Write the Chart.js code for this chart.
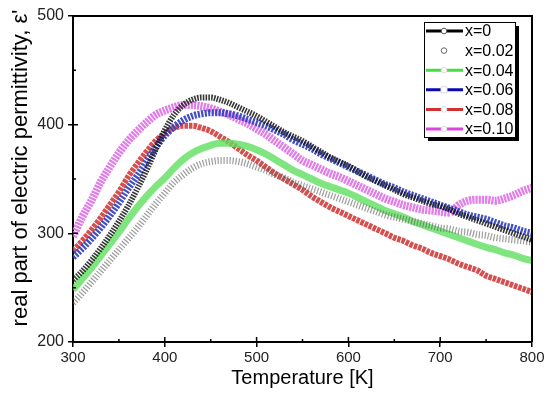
<!DOCTYPE html>
<html>
<head>
<meta charset="utf-8">
<script src="https://cdn.jsdelivr.net/npm/chart.js@4"></script>
<style>
html,body{margin:0;padding:0;background:#fff;}
#wrap{width:550px;height:397px;position:relative;}
</style>
</head>
<body>
<div id="wrap"><canvas id="c" width="550" height="397"></canvas></div>
<script>
// Temperature [K]
const temps = [300,310,320,330,340,350,360,370,380,390,400,410,420,430,440,450,460,470,480,490,500,
  510,520,530,540,550,560,570,580,590,600,610,620,630,640,650,660,670,680,690,700,
  710,720,730,740,750,760,770,780,790,800];

const x000 = [257,265,275,286,298,311,325,341,358,377,395,409,418,423,425,425,423,420,416,412,408,
  403,398,393,389,385,380,375,370,366,362,357,352,348,344,340,336,333,330,327,325,
  322,318,315,312,309,306,303,300,297,294];
const x002 = [236,245,255,265,275,285,295,305,316,327,337,347,354,360,364,366,367,367,366,364,361,
  358,354,351,347,344,341,338,335,332,329,326,323,320,317,315,313,311,309,307,305,
  304,302,301,299,298,296,295,294,293,292];
const x004 = [248,258,268,279,290,301,313,324,334,343,351,360,368,374,378,381,383,383,382,380,377,
  373,368,363,358,354,350,346,343,340,337,333,329,325,321,318,315,311,308,305,302,
  299,296,293,290,287,285,282,280,277,275];
const x006 = [278,286,295,305,316,328,341,353,366,379,390,398,404,408,410,411,411,410,408,405,402,
  399,395,391,386,382,378,373,369,365,361,357,353,349,345,342,338,335,332,329,326,
  323,320,317,315,313,310,307,305,302,300];
const x008 = [284,293,303,314,326,338,352,364,375,385,392,397,399,399,397,394,389,384,378,372,367,
  361,355,350,345,340,334,329,324,320,316,312,308,304,300,296,293,289,286,282,279,
  276,272,269,266,261,258,255,252,249,246];
const x010 = [297,315,330,347,361,374,385,394,402,409,413,416,418,418,417,415,412,409,405,401,396,
  391,385,379,373,367,363,359,355,352,348,344,340,336,332,329,326,324,322,321,320,
  319,326,330,331,331,330,332,335,339,342];

const seriesNames = ['x=0','x=0.02','x=0.04','x=0.06','x=0.08','x=0.10'];
const xTicks = [300,400,500,600,700,800];
const yTicks = [200,300,400,500];
const xMinor = [350,450,550,650,750];
const yMinor = [250,350,450];

function pts(arr){ return temps.map((t,i)=>({x:t,y:arr[i]})); }

const styles = [
  {line:'rgba(20,20,20,0.85)', lw:6, dash:[1.6,1.2], pt:'circle', pc:'rgba(0,0,0,0)', pr:0},
  {line:'rgba(90,90,90,0.6)', lw:7, dash:[1.2,1.8], pt:'circle', pc:'rgba(0,0,0,0)', pr:0},
  {line:'rgba(95,222,95,0.8)', lw:7, dash:[], pt:'circle', pc:'rgba(0,0,0,0)', pr:0},
  {line:'rgba(45,60,190,0.9)', lw:7, dash:[2.2,1.3], pt:'rect', pc:'rgba(0,0,0,0)', pr:0},
  {line:'rgba(210,60,60,0.9)', lw:6, dash:[3.5,1], pt:'triangle', pc:'rgba(0,0,0,0)', pr:0},
  {line:'rgba(222,110,230,0.9)', lw:8, dash:[2.2,1], pt:'circle', pc:'rgba(0,0,0,0)', pr:0}
];
const allData = [x000,x002,x004,x006,x008,x010];

const datasets = allData.map((d,i)=>({
  label: seriesNames[i],
  data: pts(d),
  showLine: true,
  borderColor: styles[i].line,
  borderWidth: styles[i].lw,
  borderDash: styles[i].dash,
  pointStyle: styles[i].pt,
  pointRadius: styles[i].pr,
  pointBorderColor: styles[i].pc,
  pointBackgroundColor: 'rgba(255,255,255,0)',
  pointBorderWidth: 1,
  cubicInterpolationMode: 'monotone',
  fill:false
}));

const FONT = '"Liberation Sans", Arial, sans-serif';

const decor = {
  id:'decor',
  afterDraw(chart){
    const {ctx, chartArea:a, scales:{x,y}} = chart;
    ctx.save();
    ctx.setLineDash([]);
    ctx.strokeStyle='#000';
    ctx.lineWidth=2;
    ctx.beginPath();
    ctx.moveTo(a.left,a.top); ctx.lineTo(a.right,a.top); ctx.lineTo(a.right,a.bottom);
    ctx.stroke();
    ctx.lineWidth=1.5;
    ctx.beginPath();
    xTicks.forEach(v=>{const p=x.getPixelForValue(v); ctx.moveTo(p,a.bottom); ctx.lineTo(p,a.bottom-5);});
    yTicks.forEach(v=>{const p=y.getPixelForValue(v); ctx.moveTo(a.left,p); ctx.lineTo(a.left+5,p);});
    xMinor.forEach(v=>{const p=x.getPixelForValue(v); ctx.moveTo(p,a.bottom); ctx.lineTo(p,a.bottom-3);});
    yMinor.forEach(v=>{const p=y.getPixelForValue(v); ctx.moveTo(a.left,p); ctx.lineTo(a.left+3,p);});
    ctx.stroke();

    // axis titles
    ctx.fillStyle='#000';
    ctx.font='20px '+FONT;
    ctx.textAlign='center';
    ctx.textBaseline='alphabetic';
    ctx.fillText('Temperature [K]', (a.left+a.right)/2, 384);
    ctx.save();
    ctx.translate(27,168);
    ctx.rotate(-Math.PI/2);
    ctx.font='22px '+FONT;
    ctx.fillText("real part of electric permittivity, ε'", 0, 0);
    ctx.restore();

    // legend
    const L=424, T=22, W=91, H=115;
    ctx.fillStyle='#000';
    ctx.fillRect(L+4,T+4,W,H);
    ctx.fillStyle='#fff';
    ctx.fillRect(L,T,W,H);
    ctx.lineWidth=1;
    ctx.strokeStyle='#000';
    ctx.strokeRect(L+0.5,T+0.5,W,H);
    ctx.font='16px '+FONT;
    ctx.textBaseline='middle';
    ctx.textAlign='left';
    const legLine=['#000000',null,'#44dd44','#0a0ab0','#d03030','#dd44dd'];
    seriesNames.forEach((n,i)=>{
      const cy = T+9+i*19.6;
      if(legLine[i]){
        ctx.strokeStyle=legLine[i]; ctx.lineWidth=3;
        ctx.beginPath(); ctx.moveTo(L+2,cy); ctx.lineTo(L+39,cy); ctx.stroke();
      }
      ctx.strokeStyle = i===1 ? '#666' : (i===0?'#555':'#ddd');
      ctx.fillStyle='#fff';
      ctx.lineWidth=1;
      ctx.beginPath();
      if(i===3){ ctx.rect(L+17,cy-3,6,6); }
      else { ctx.arc(L+20,cy,2.8,0,Math.PI*2); }
      ctx.fill(); ctx.stroke();
      ctx.fillStyle='#000';
      ctx.fillText(n, L+41, cy+1);
    });
    ctx.restore();
  }
};

new Chart(document.getElementById('c'),{
  type:'scatter',
  data:{datasets},
  options:{
    responsive:false,
    animation:false,
    devicePixelRatio:1,
    layout:{padding:{top:16,right:18,left:0,bottom:0}},
    plugins:{legend:{display:false},tooltip:{enabled:false}},
    scales:{
      x:{
        type:'linear', min:300, max:800,
        afterBuildTicks(s){ s.ticks = xTicks.map(v=>({value:v})); },
        afterFit(s){ s.height = 55; },
        border:{display:true,color:'#000',width:2},
        grid:{display:true,drawOnChartArea:false,drawTicks:true,tickLength:5,color:'#000',lineWidth:1.5},
        ticks:{color:'#222',font:{size:15,family:FONT},padding:2,maxRotation:0},
        title:{display:false}
      },
      y:{
        type:'linear', min:200, max:500,
        afterBuildTicks(s){ s.ticks = yTicks.map(v=>({value:v})); },
        afterFit(s){ s.width = 73; },
        border:{display:true,color:'#000',width:2},
        grid:{display:true,drawOnChartArea:false,drawTicks:true,tickLength:5,color:'#000',lineWidth:1.5},
        ticks:{color:'#222',font:{size:16,family:FONT},padding:4},
        title:{display:false}
      }
    }
  },
  plugins:[decor]
});
</script>
</body>
</html>
